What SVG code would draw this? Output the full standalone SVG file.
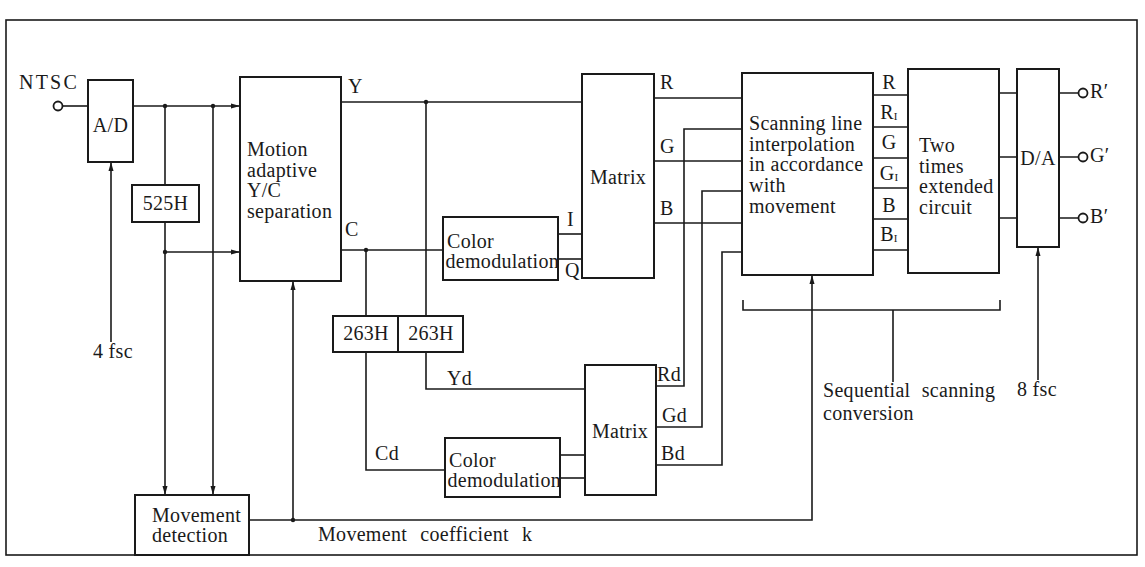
<svg xmlns="http://www.w3.org/2000/svg" width="1145" height="567" viewBox="0 0 1145 567">
<style>
.box{fill:#fff;stroke:#1a1a1a;stroke-width:2}
.ln{fill:none;stroke:#1a1a1a;stroke-width:1.6}
.t{font-family:"Liberation Serif","DejaVu Serif",serif;font-size:20px;fill:#1a1a1a;letter-spacing:0.3px}
.m{text-anchor:middle}
.sub{font-size:11px}
.dot{fill:#1a1a1a}
.term{fill:#fff;stroke:#1a1a1a;stroke-width:1.8}
</style>
<defs>
<marker id="arr" markerWidth="10" markerHeight="8" refX="9" refY="4" orient="auto" markerUnits="userSpaceOnUse"><path d="M0,1.5 L9,4 L0,6.5 z" fill="#1a1a1a"/></marker>
</defs>
<rect x="6" y="20" width="1131" height="535" fill="none" stroke="#1a1a1a" stroke-width="1.6"/>

<g id="connectors">
<path class="ln" d="M62.5,106 H88"/>
<path class="ln" d="M133,106 H240" marker-end="url(#arr)"/>
<path class="ln" d="M165,106 V185"/>
<path class="ln" d="M165,222 V495" marker-end="url(#arr)"/>
<path class="ln" d="M165,252 H240" marker-end="url(#arr)"/>
<path class="ln" d="M213,106 V495" marker-end="url(#arr)"/>
<path class="ln" d="M111,342 V162" marker-end="url(#arr)"/>
<path class="ln" d="M341,102 H582"/>
<path class="ln" d="M426,102 V316"/>
<path class="ln" d="M341,250 H443"/>
<path class="ln" d="M366,250 V316"/>
<path class="ln" d="M558,234 H582"/>
<path class="ln" d="M558,259 H582"/>
<path class="ln" d="M654,98 H742"/>
<path class="ln" d="M654,161 H742"/>
<path class="ln" d="M654,223 H742"/>
<path class="ln" d="M656,386 H684 V129 H742"/>
<path class="ln" d="M656,427 H702 V191 H742"/>
<path class="ln" d="M656,465 H722 V252 H742"/>
<path class="ln" d="M366,352 V470 H445"/>
<path class="ln" d="M426,352 V389 H585"/>
<path class="ln" d="M560,455 H585"/>
<path class="ln" d="M560,478 H585"/>
<path class="ln" d="M249,520 H812 V275" marker-end="url(#arr)"/>
<path class="ln" d="M293,520 V281" marker-end="url(#arr)"/>
<path class="ln" d="M873,95 H908 M873,127 H908 M873,158 H908 M873,188 H908 M873,219 H908 M873,250 H908"/>
<path class="ln" d="M999,93 H1017 M999,157 H1017 M999,218 H1017"/>
<path class="ln" d="M1059,93 H1078.5 M1059,157 H1078.5 M1059,218 H1078.5"/>
<path class="ln" d="M1038,380 V247" marker-end="url(#arr)"/>
<path class="ln" d="M743,300 V310 H1000 V300 M893,310 V382"/>
<circle class="dot" cx="165" cy="106" r="2.2"/>
<circle class="dot" cx="213" cy="106" r="2.2"/>
<circle class="dot" cx="165" cy="252" r="2.2"/>
<circle class="dot" cx="426" cy="102" r="2.2"/>
<circle class="dot" cx="366" cy="250" r="2.2"/>
<circle class="dot" cx="293" cy="520" r="2.2"/>
</g>

<g id="ntsc">
<circle class="term" cx="58" cy="106" r="4.5"/>
<text class="t" x="19" y="89" style="letter-spacing:2.2px">NTSC</text>
</g>
<g id="ad">
<rect class="box" x="88" y="80" width="45" height="82"/>
<text class="t m" x="110.5" y="132">A/D</text>
</g>
<g id="fsc4"><text class="t" x="93" y="358">4 fsc</text></g>
<g id="d525">
<rect class="box" x="132" y="185" width="67" height="37"/>
<text class="t m" x="165.5" y="210">525H</text>
</g>
<g id="yc">
<rect class="box" x="240" y="77" width="101" height="204"/>
<text class="t" x="247" y="156">Motion</text>
<text class="t" x="247" y="176.5">adaptive</text>
<text class="t" x="247" y="197">Y/C</text>
<text class="t" x="247" y="217.5">separation</text>
<text class="t" x="348" y="93">Y</text>
<text class="t" x="345" y="236">C</text>
</g>
<g id="cdem1">
<rect class="box" x="443" y="217" width="115" height="63"/>
<text class="t" x="447" y="248">Color</text>
<text class="t" x="445.5" y="268">demodulation</text>
<text class="t" x="567" y="226">I</text>
<text class="t" x="565" y="277">Q</text>
</g>
<g id="matrix1">
<rect class="box" x="582" y="74" width="72" height="204"/>
<text class="t m" x="618" y="184">Matrix</text>
<text class="t" x="660" y="89">R</text>
<text class="t" x="660" y="153">G</text>
<text class="t" x="660" y="215">B</text>
</g>
<g id="d263">
<rect class="box" x="333" y="316" width="65" height="36"/>
<rect class="box" x="398" y="316" width="65" height="36"/>
<text class="t m" x="366" y="340">263H</text>
<text class="t m" x="431" y="340">263H</text>
<text class="t" x="447" y="385">Yd</text>
<text class="t" x="375" y="460">Cd</text>
</g>
<g id="cdem2">
<rect class="box" x="445" y="438" width="115" height="59"/>
<text class="t" x="449" y="467">Color</text>
<text class="t" x="447.5" y="487">demodulation</text>
</g>
<g id="matrix2">
<rect class="box" x="585" y="365" width="71" height="130"/>
<text class="t m" x="620" y="438">Matrix</text>
<text class="t" x="657" y="381">Rd</text>
<text class="t" x="662" y="422">Gd</text>
<text class="t" x="661" y="460">Bd</text>
</g>
<g id="scan">
<rect class="box" x="742" y="73" width="131" height="202"/>
<text class="t" x="749" y="130">Scanning line</text>
<text class="t" x="749" y="150.5">interpolation</text>
<text class="t" x="749" y="171">in accordance</text>
<text class="t" x="749" y="192">with</text>
<text class="t" x="749" y="213">movement</text>
<text class="t m" x="889" y="89">R</text>
<text class="t m" x="889" y="119">R<tspan class="sub" dy="1">I</tspan></text>
<text class="t m" x="889" y="149">G</text>
<text class="t m" x="889" y="180">G<tspan class="sub" dy="1">I</tspan></text>
<text class="t m" x="889" y="212">B</text>
<text class="t m" x="889" y="241">B<tspan class="sub" dy="1">I</tspan></text>
</g>
<g id="twotimes">
<rect class="box" x="908" y="69" width="91" height="204"/>
<text class="t" x="919" y="152">Two</text>
<text class="t" x="919" y="173">times</text>
<text class="t" x="919" y="193">extended</text>
<text class="t" x="919" y="214">circuit</text>
</g>
<g id="da">
<rect class="box" x="1017" y="69" width="42" height="178"/>
<text class="t m" x="1038" y="165">D/A</text>
</g>
<g id="outputs">
<circle class="term" cx="1083" cy="93" r="4.5"/>
<circle class="term" cx="1083" cy="157" r="4.5"/>
<circle class="term" cx="1083" cy="218" r="4.5"/>
<text class="t" x="1090" y="98">R′</text>
<text class="t" x="1090" y="162">G′</text>
<text class="t" x="1090" y="223">B′</text>
</g>
<g id="fsc8"><text class="t" x="1017" y="396">8 fsc</text></g>
<g id="seq">
<text class="t" x="823" y="397" style="word-spacing:6px">Sequential scanning</text>
<text class="t" x="823" y="420">conversion</text>
</g>
<g id="movdet">
<rect class="box" x="135" y="495" width="114" height="60"/>
<text class="t" x="152" y="522">Movement</text>
<text class="t" x="152" y="542">detection</text>
</g>
<g id="coef"><text class="t" x="318" y="541" style="word-spacing:8px">Movement coefficient k</text></g>
</svg>
